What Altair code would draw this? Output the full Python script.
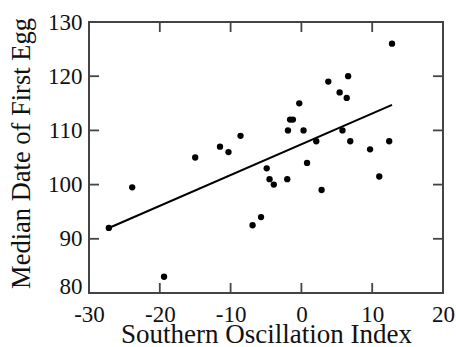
import altair as alt
import pandas as pd

# Data
soi = [-27.2, -23.9, -19.4, -15.0, -11.5, -10.3, -8.6, -6.9, -5.7, -4.9, -4.5,
       -3.9, -2.0, -1.9, -1.6, -1.2, -0.3, 0.3, 0.8, 2.1, 2.85, 3.8, 5.4, 5.8,
       6.4, 6.6, 6.9, 9.7, 11.0, 12.4, 12.8]
egg = [92.0, 99.5, 83.0, 105.0, 107.0, 106.0, 109.0, 92.5, 94.0, 103.0, 101.0,
       100.0, 101.0, 110.0, 112.0, 112.0, 115.0, 110.0, 104.0, 108.0, 99.0, 119.0,
       117.0, 110.0, 116.0, 120.0, 108.0, 106.5, 101.5, 108.0, 126.0]
fit_x = [-27.2, 12.8]
fit_y = [92.0, 114.7]
x_ticks = [-30, -20, -10, 0, 10, 20]
y_ticks = [80, 90, 100, 110, 120, 130]
x_inner = [-20, -10, 0, 10]
y_inner = [90, 100, 110, 120]

W, H = 354, 271
FONT = "Liberation Serif"
TL = 10

pts = pd.DataFrame({"x": soi, "y": egg})
fit = pd.DataFrame({"x": fit_x, "y": fit_y})
xt = pd.DataFrame({"x": x_inner})
yt = pd.DataFrame({"y": y_inner})

xscale = alt.Scale(domain=[-30, 20], nice=False, zero=False)
yscale = alt.Scale(domain=[80, 130], nice=False, zero=False)

xaxis = alt.Axis(values=x_ticks, ticks=False, tickSize=0, domain=False, grid=False,
                 labelExpr="'' + datum.value",
                 labelFont=FONT, labelFontSize=23, labelColor="#111", labelPadding=10,
                 labelFlush=False, title="Southern Oscillation Index", titleFont=FONT,
                 titleFontSize=27, titleFontWeight="normal", titleColor="#111",
                 titleBaseline="alphabetic", titleY=49)
yaxis = alt.Axis(values=y_ticks, ticks=False, tickSize=0, domain=False, grid=False,
                 labelExpr="'' + datum.value",
                 labelFont=FONT, labelFontSize=23, labelColor="#111", labelPadding=7,
                 labelFlush=False,
                 labelBaseline={"expr": "datum.value === 80 ? 'alphabetic' : 'middle'"},
                 title="Median Date of First Egg", titleFont=FONT, titleFontSize=26.5,
                 titleFontWeight="normal", titleColor="#111",
                 titleBaseline="alphabetic", titleX=-59.5, titleY=131)

points = alt.Chart(pts).mark_circle(size=40, color="black", opacity=1).encode(
    x=alt.X("x:Q", scale=xscale, axis=xaxis),
    y=alt.Y("y:Q", scale=yscale, axis=yaxis),
)
line = alt.Chart(fit).mark_line(color="black", strokeWidth=2).encode(
    x=alt.X("x:Q", scale=xscale), y=alt.Y("y:Q", scale=yscale)
)
tick_style = dict(color="#444", strokeWidth=1.8)
xb = alt.Chart(xt).mark_rule(**tick_style).encode(
    x=alt.X("x:Q", scale=xscale), y=alt.value(H), y2=alt.value(H - TL))
xtp = alt.Chart(xt).mark_rule(**tick_style).encode(
    x=alt.X("x:Q", scale=xscale), y=alt.value(0), y2=alt.value(TL))
yl = alt.Chart(yt).mark_rule(**tick_style).encode(
    y=alt.Y("y:Q", scale=yscale), x=alt.value(0), x2=alt.value(TL))
yr = alt.Chart(yt).mark_rule(**tick_style).encode(
    y=alt.Y("y:Q", scale=yscale), x=alt.value(W), x2=alt.value(W - TL))

chart = alt.layer(xb, xtp, yl, yr, line, points).properties(
    width=W, height=H,
    autosize=alt.AutoSizeParams(type="none"),
    padding={"left": 89, "top": 22, "right": 13, "bottom": 54},
    background="white",
).configure_view(stroke="#444", strokeWidth=2)

chart.save("out.html", embed_options={"renderer": "svg", "actions": False})
